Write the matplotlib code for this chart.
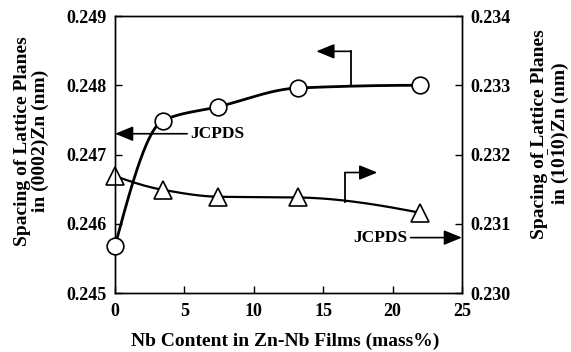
import numpy as np
import matplotlib
matplotlib.use("Agg")
import matplotlib.pyplot as plt

# Данные
nb_content = [0.0, 3.45, 7.45, 13.15, 21.95]
d_0002 = [0.24568, 0.24749, 0.24769, 0.24796, 0.24800]
nb_content_t = [0.0, 3.45, 7.45, 13.15, 21.95]
d_1010 = [0.23169, 0.23149, 0.23139, 0.23138, 0.23116]
jcpds_0002 = 0.2473
jcpds_1010 = 0.2308

x_ticks = [0, 5, 10, 15, 20, 25]
left_ticks = [0.245, 0.246, 0.247, 0.248, 0.249]
right_ticks = [0.230, 0.231, 0.232, 0.233, 0.234]

plt.rcParams["font.family"] = ["Liberation Serif", "DejaVu Serif"]
plt.rcParams["font.weight"] = "bold"
plt.rcParams["mathtext.fontset"] = "custom"
plt.rcParams["mathtext.rm"] = "Liberation Serif:bold"
plt.rcParams["mathtext.bf"] = "Liberation Serif:bold"


def pchip(x, y, xs):
    # монотонная кубическая интерполяция (Fritsch-Carlson) для гладкой линии
    x = np.asarray(x, float)
    y = np.asarray(y, float)
    h = np.diff(x)
    d = np.diff(y) / h
    m = np.zeros_like(y)
    for k in range(1, len(x) - 1):
        if d[k - 1] * d[k] > 0:
            w1 = 2 * h[k] + h[k - 1]
            w2 = h[k] + 2 * h[k - 1]
            m[k] = (w1 + w2) / (w1 / d[k - 1] + w2 / d[k])
    m[0] = ((2 * h[0] + h[1]) * d[0] - h[0] * d[1]) / (h[0] + h[1])
    if np.sign(m[0]) != np.sign(d[0]):
        m[0] = 0
    m[-1] = ((2 * h[-1] + h[-2]) * d[-1] - h[-1] * d[-2]) / (h[-1] + h[-2])
    if np.sign(m[-1]) != np.sign(d[-1]):
        m[-1] = 0
    idx = np.clip(np.searchsorted(x, xs) - 1, 0, len(x) - 2)
    t = (xs - x[idx]) / h[idx]
    h00 = 2 * t**3 - 3 * t**2 + 1
    h10 = t**3 - 2 * t**2 + t
    h01 = -2 * t**3 + 3 * t**2
    h11 = t**3 - t**2
    return (h00 * y[idx] + h10 * h[idx] * m[idx] + h01 * y[idx + 1]
            + h11 * h[idx] * m[idx + 1])


fig = plt.figure(figsize=(5.71, 3.52), dpi=100)
ax = fig.add_axes([0.2014, 0.1676, 0.6077, 0.7869])
ax2 = ax.twinx()

xs = np.linspace(nb_content[0], nb_content[-1], 300)
ax.plot(xs, pchip(nb_content, d_0002, xs), color="black", lw=2.0, zorder=2)
ax.plot(nb_content, d_0002, "o", ms=12, mfc="white", mec="black", mew=1.2,
        zorder=3, clip_on=False)

xs_t = np.linspace(nb_content_t[0], nb_content_t[-1], 300)
ax2.plot(xs_t, pchip(nb_content_t, d_1010, xs_t), color="black", lw=1.6,
         zorder=2)
ax2.plot(nb_content_t, d_1010, "^", ms=13, mfc="white", mec="black",
         mew=1.2, zorder=3, clip_on=False)

ax.set_xlim(0, 25)
ax.set_ylim(0.245, 0.249)
ax2.set_ylim(0.230, 0.234)
ax.set_xticks(x_ticks)
ax.set_yticks(left_ticks)
ax2.set_yticks(right_ticks)
ax.set_yticklabels(["%.3f" % v for v in left_ticks])
ax2.set_yticklabels(["%.3f" % v for v in right_ticks])

for a in (ax, ax2):
    a.tick_params(direction="in", length=5, width=1, labelsize=13,
                  pad=6)
    for s in a.spines.values():
        s.set_linewidth(1.0)
ax.tick_params(axis="x", pad=7)
ax.set_zorder(ax2.get_zorder() + 1)
ax.patch.set_visible(False)

arrow_kw = dict(arrowstyle="-|>,head_length=1.1,head_width=0.45",
                color="black", lw=1.2, shrinkA=0, shrinkB=0)

# стрелки "к оси" для кривых
ax.plot([16.98, 16.98], [0.24800, 0.24849], color="black", lw=1.3)
ax.annotate("", xy=(14.5, 0.24849), xytext=(16.98, 0.24849),
            arrowprops=arrow_kw)
ax2.plot([16.57, 16.57], [0.23131, 0.23174], color="black", lw=1.3)
ax2.annotate("", xy=(18.9, 0.23174), xytext=(16.57, 0.23174),
             arrowprops=arrow_kw)

# JCPDS
ax.annotate("", xy=(0.0, jcpds_0002), xytext=(5.2, jcpds_0002),
            arrowprops=arrow_kw)
ax.text(5.4, jcpds_0002, "JCPDS", fontsize=12.5, fontweight="bold",
        va="center", ha="left")
ax2.annotate("", xy=(25.0, jcpds_1010), xytext=(21.3, jcpds_1010),
             arrowprops=arrow_kw)
ax2.text(21.1, jcpds_1010, "JCPDS", fontsize=12.5, fontweight="bold",
         va="center", ha="right")

fig.text(0.5, 0.03, "Nb Content in Zn-Nb Films (mass%)", ha="center",
         va="center", fontsize=14, fontweight="bold")
fig.text(0.055, 0.6, "Spacing of Lattice Planes\nin (0002)Zn (nm)",
         rotation=90, ha="center", va="center", fontsize=14,
         fontweight="bold", linespacing=1.0)
fig.text(0.965, 0.62,
         "Spacing of Lattice Planes\nin (10$\\mathrm{\\bar{1}}$0)Zn (nm)",
         rotation=90, ha="center", va="center", fontsize=14,
         fontweight="bold", linespacing=1.0)

fig.savefig("out.png", dpi=100)
